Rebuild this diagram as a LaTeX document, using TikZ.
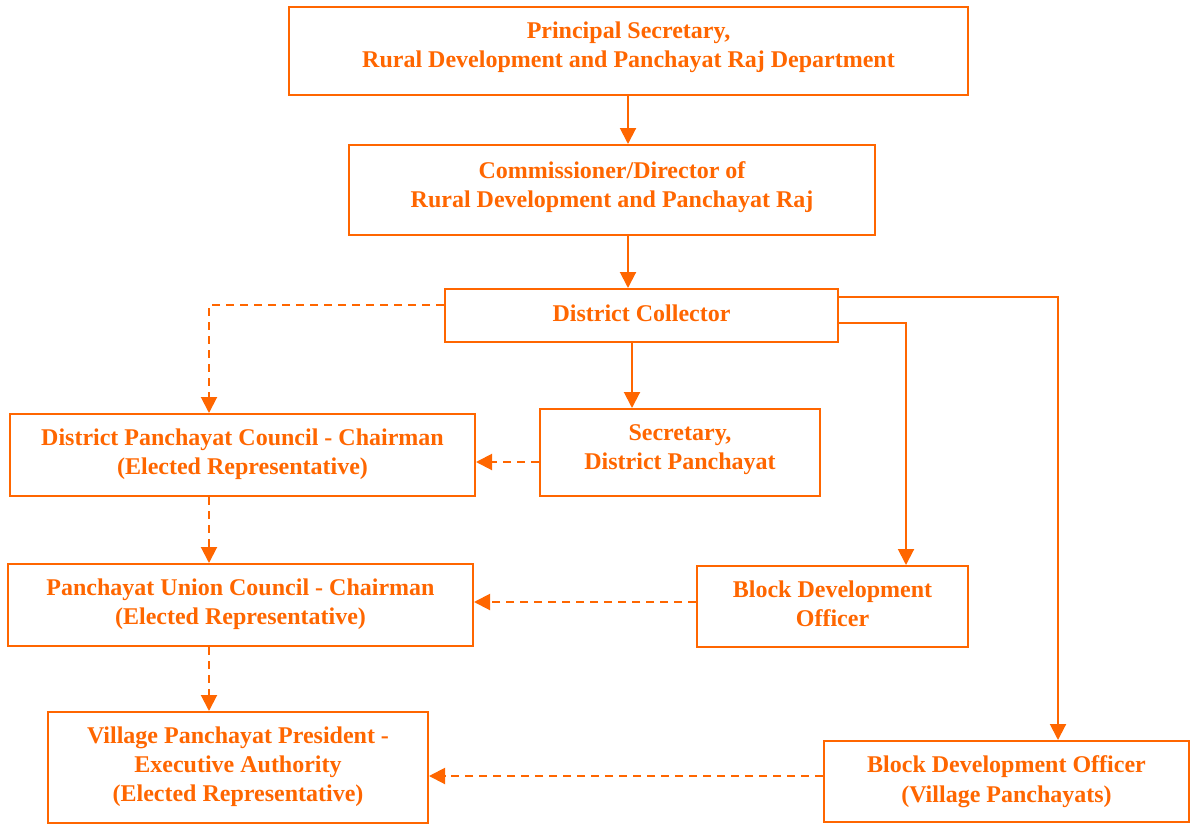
\documentclass[tikz,border=0pt]{standalone}
\usepackage{fontspec}
\setmainfont{Liberation Serif}
\usetikzlibrary{arrows.meta}
\definecolor{org}{RGB}{255,102,0}
\begin{document}
\begin{tikzpicture}[x=1pt,y=-1pt,
  box/.style={draw=org,line width=2pt,rectangle,inner sep=0pt},
  txt/.style={text=org,inner sep=0pt,font=\fontsize{24}{28.8}\selectfont\bfseries,align=center},
  sol/.style={draw=org,line width=2pt,-{Triangle[length=16pt,width=16pt]}},
  dsh/.style={draw=org,line width=2pt,dash pattern=on 8pt off 6pt,-{Triangle[length=16pt,width=16pt]}}]
\useasboundingbox (0,0) rectangle (1190,824);
\node[box,minimum width=679pt,minimum height=88pt] (ps) at (628.5,51) {};
\node[txt] (pst) at ([yshift=4pt]ps.center) {Principal Secretary,\\Rural Development and Panchayat Raj Department};
\node[box,minimum width=526pt,minimum height=90pt] (cd) at (612,190) {};
\node[txt] (cdt) at ([yshift=3pt]cd.center) {Commissioner/Director of\\Rural Development and Panchayat Raj};
\node[box,minimum width=393pt,minimum height=53pt] (dc) at (641.5,315.5) {};
\node[txt] (dct) at ([yshift=2pt]dc.center) {District Collector};
\node[box,minimum width=465pt,minimum height=82pt] (dpc) at (242.5,455) {};
\node[txt] (dpct) at ([yshift=1pt]dpc.center) {District Panchayat Council - Chairman\\(Elected Representative)};
\node[box,minimum width=280pt,minimum height=87pt] (sdp) at (680,452.5) {};
\node[txt] (sdpt) at ([yshift=3pt]sdp.center) {Secretary,\\District Panchayat};
\node[box,minimum width=465pt,minimum height=82pt] (puc) at (240.5,605) {};
\node[txt] (puct) at ([yshift=1pt]puc.center) {Panchayat Union Council - Chairman\\(Elected Representative)};
\node[box,minimum width=271pt,minimum height=81pt] (bdo) at (832.5,606.5) {};
\node[txt] (bdot) at ([yshift=3pt]bdo.center) {Block Development\\Officer};
\node[box,minimum width=380pt,minimum height=111pt] (vpp) at (238,767.5) {};
\node[txt] (vppt) at ([yshift=1pt]vpp.center) {Village Panchayat President -\\Executive Authority\\(Elected Representative)};
\node[box,minimum width=365pt,minimum height=81pt] (bvp) at (1006.5,781.5) {};
\node[txt] (bvpt) at ([yshift=0pt]bvp.center) {Block Development Officer\\[1.5pt](Village Panchayats)};
\coordinate (c1) at (209,305);
\coordinate (c2) at (906,323);
\coordinate (c3) at (1058,297);
\draw[sol] (ps.south -| 628,0) -- (cd.north -| 628,0);
\draw[sol] (cd.south -| 628,0) -- (dc.north -| 628,0);
\draw[sol] (dc.south -| 632,0) -- (sdp.north -| 632,0);
\draw[dsh] (dc.west |- c1) -- (c1) -- (dpc.north -| c1);
\draw[dsh] (sdp.west |- 0,462) -- (dpc.east |- 0,462);
\draw[dsh] (dpc.south -| c1) -- (puc.north -| c1);
\draw[dsh] (bdo.west |- 0,602) -- (puc.east |- 0,602);
\draw[dsh] (puc.south -| c1) -- (vpp.north -| c1);
\draw[dsh] (bvp.west |- 0,776) -- (vpp.east |- 0,776);
\draw[sol] (dc.east |- c2) -- (c2) -- (bdo.north -| c2);
\draw[sol] (dc.east |- c3) -- (c3) -- (bvp.north -| c3);
\end{tikzpicture}
\end{document}
